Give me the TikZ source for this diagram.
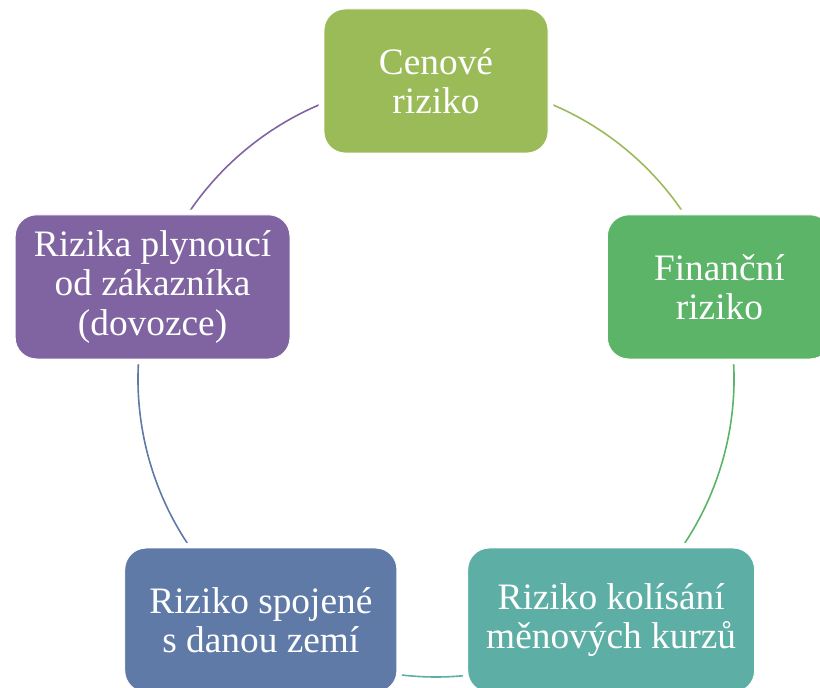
\documentclass[tikz,border=0pt]{standalone}
\usepackage{fontspec}
\setmainfont{Liberation Serif}
\usetikzlibrary{calc, backgrounds}
\definecolor{cenc}{RGB}{155,187,89}
\definecolor{finc}{RGB}{92,180,104}
\definecolor{kurzc}{RGB}{93,174,164}
\definecolor{zemec}{RGB}{96,122,168}
\definecolor{zakc}{RGB}{128,100,161}
\begin{document}
\begin{tikzpicture}[x=0.75pt, y=0.75pt,
    box/.style={rounded corners=16pt, minimum height=108pt, align=center, text=white,
        inner sep=0pt, font=\fontsize{28}{29.5}\selectfont, draw=white, line width=0.6pt,
        preaction={draw=white, line width=8pt}},
    link/.style={line width=1.2pt}]
    \useasboundingbox (0,0) rectangle (820,688);
    \coordinate (ctr) at (436,309);

    \node[box, fill=cenc, minimum width=168pt] (cen) at ($(ctr)+(90:298)$) {Cenové\\riziko};
    \node[box, fill=finc, minimum width=168pt] (fin) at ($(ctr)+(18:298)$) {Finanční\\riziko};
    \node[box, fill=kurzc, minimum width=215pt] (kurz) at ($(ctr)+(-54:298)$) {Riziko kolísání\\měnových kurzů};
    \node[box, fill=zemec, minimum width=204pt] (zeme) at ($(ctr)+(-126:298)$) {Riziko spojené\\s danou zemí};
    \node[box, fill=zakc, minimum width=206pt] (zak) at ($(ctr)+(162:298)$) {Rizika plynoucí\\od zákazníka\\(dovozce)};

    % cycle arcs behind the boxes
    \begin{scope}[on background layer]
        \draw[link, cenc] (cen.center) arc[start angle=90, end angle=18, radius=298];
        \draw[link, finc] (fin.center) arc[start angle=18, end angle=-54, radius=298];
        \draw[link, kurzc] (kurz.center) arc[start angle=-54, end angle=-126, radius=298];
        \draw[link, zemec] (zeme.center) arc[start angle=-126, end angle=-198, radius=298];
        \draw[link, zakc] (zak.center) arc[start angle=162, end angle=90, radius=298];
    \end{scope}
\end{tikzpicture}
\end{document}
